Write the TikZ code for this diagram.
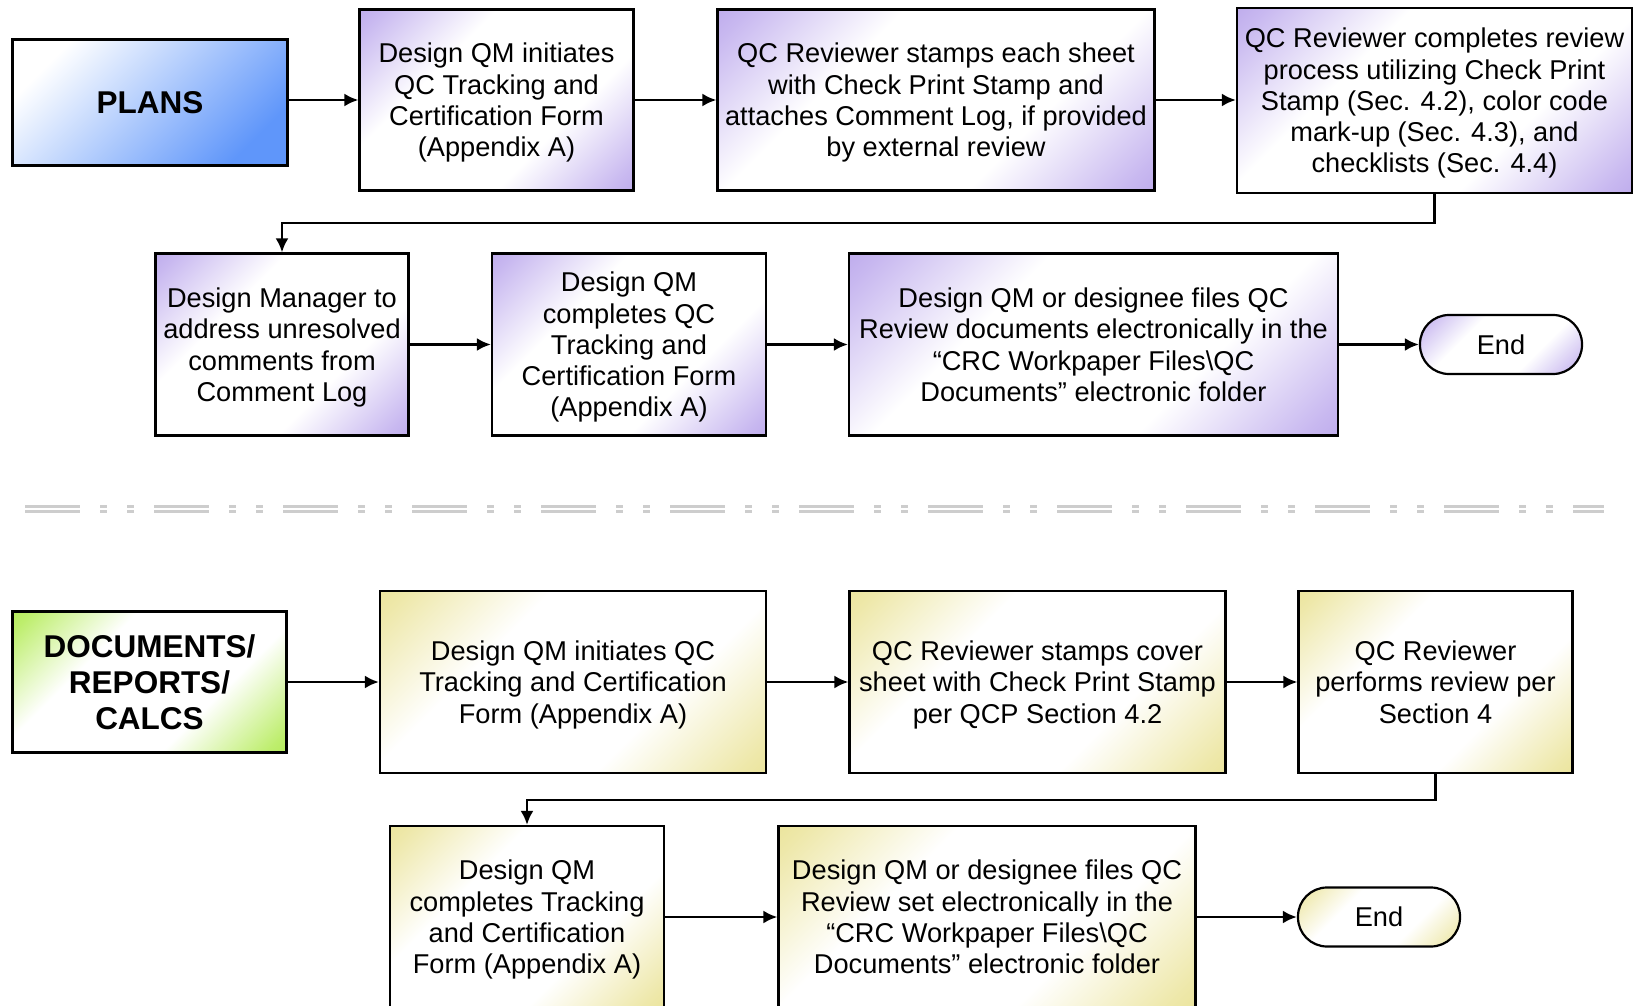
\documentclass[tikz,border=0pt]{standalone}
\usepackage{fontspec}
\setmainfont{Liberation Sans}
\usetikzlibrary{arrows.meta}

\definecolor{qcpurple}{RGB}{155,128,222}
\definecolor{qcpurplelt}{RGB}{200,184,240}
\definecolor{qcyellow}{RGB}{224,214,105}
\definecolor{qcyellowlt}{RGB}{238,232,170}
\definecolor{qcgreen}{RGB}{145,222,20}
\definecolor{qcgreenlt}{RGB}{190,238,110}
\definecolor{qcblue}{RGB}{95,150,250}
\definecolor{sepgray}{RGB}{205,205,205}

\newcommand{\diagshading}[3]{%
  \pgfdeclareverticalshading{#1}{100bp}{color(0bp)=(#2); color(18bp)=(#3);
    color(36bp)=(white); color(64bp)=(white); color(82bp)=(#3); color(100bp)=(#2)}}
\diagshading{purplediag}{qcpurple}{qcpurplelt}
\diagshading{yellowdiag}{qcyellow}{qcyellowlt}
\diagshading{greendiag}{qcgreen}{qcgreenlt}

\newcommand{\boxfont}{\fontsize{27.2}{31.3}\selectfont}
\newcommand{\headfont}{\fontsize{31.5}{36.3}\selectfont\bfseries}

\tikzset{
  box/.style={draw, line width=2.2pt, inner sep=0pt, text depth=0pt, align=center, font=\boxfont},
  pbox/.style={box, shade, shading=purplediag, shading angle=45},
  ybox/.style={box, shade, shading=yellowdiag, shading angle=45},
  endbox/.style={minimum width=162pt, minimum height=59pt, rounded corners=29pt},
  arr/.style={line width=2.6pt, -{Latex[length=14pt,width=13pt]}}
}

\begin{document}
\begin{tikzpicture}[x=1pt,y=-1pt]
\useasboundingbox (0,0) rectangle (1634,1006);
\clip (0,0) rectangle (1634,1006);

\node (plans) at (150,102.5) [box, font=\headfont, top color=white, bottom color=qcblue, shading angle=45,
  minimum width=275pt, minimum height=126pt] {PLANS};
\node (a1) at (496.5,100) [pbox, minimum width=274pt, minimum height=181pt]
  {Design QM initiates\\QC Tracking and\\Certification Form\\(Appendix A)};
\node (a2) at (936,100) [pbox, minimum width=437pt, minimum height=181pt]
  {QC Reviewer stamps each sheet\\with Check Print Stamp and\\attaches Comment Log, if provided\\by external review};
\node (a3) at (1434.5,100.5) [pbox, minimum width=395pt, minimum height=185pt]
  {QC Reviewer completes review\\process utilizing Check Print\\Stamp (Sec. 4.2), color code\\mark-up (Sec. 4.3), and\\checklists (Sec. 4.4)};

\node (b1) at (282,344.5) [pbox, minimum width=253pt, minimum height=182pt]
  {Design Manager to\\address unresolved\\comments from\\Comment Log};
\node (b2) at (629,344.5) [pbox, minimum width=274pt, minimum height=182pt]
  {Design QM\\completes QC\\Tracking and\\Certification Form\\(Appendix A)};
\node (b3) at (1093.5,344.5) [pbox, minimum width=489pt, minimum height=182pt]
  {Design QM or designee files QC\\Review documents electronically in the\\“CRC Workpaper Files\textbackslash QC\\Documents” electronic folder};
\node (end1) at (1501,344.5) [pbox, endbox] {End};

\coordinate (turn1) at (282,223);
\draw[arr] (plans.east |- a1.west) -- (a1.west);
\draw[arr] (a1) -- (a2);
\draw[arr] (a2.east) -- (a3.west |- a2.east);
\draw[arr] (a3.south) |- (turn1) -- (b1.north);
\draw[arr] (b1) -- (b2);
\draw[arr] (b2) -- (b3);
\draw[arr] (b3) -- (end1);

\draw[sepgray, line width=2.8pt, dash pattern=on 55pt off 20pt on 7pt off 20pt on 7pt off 20pt]
  (25,506.5) -- (1604,506.5);
\draw[sepgray, line width=2.8pt, dash pattern=on 55pt off 20pt on 7pt off 20pt on 7pt off 20pt]
  (25,511.5) -- (1604,511.5);

\node (docs) at (149.5,682) [box, font=\headfont, shade, shading=greendiag, shading angle=45,
  minimum width=274pt, minimum height=141pt] {DOCUMENTS/\\REPORTS/\\CALCS};
\node (c1) at (573,682) [ybox, minimum width=386pt, minimum height=182pt]
  {Design QM initiates QC\\Tracking and Certification\\Form (Appendix A)};
\node (c2) at (1037.5,682) [ybox, minimum width=376pt, minimum height=182pt]
  {QC Reviewer stamps cover\\sheet with Check Print Stamp\\per QCP Section 4.2};
\node (c3) at (1435.5,682) [ybox, minimum width=274pt, minimum height=182pt]
  {QC Reviewer\\performs review per\\Section 4};

\node (d1) at (527,917) [ybox, minimum width=274pt, minimum height=182pt]
  {Design QM\\completes Tracking\\and Certification\\Form (Appendix A)};
\node (d2) at (987,917) [ybox, minimum width=417pt, minimum height=182pt]
  {Design QM or designee files QC\\Review set electronically in the\\“CRC Workpaper Files\textbackslash QC\\Documents” electronic folder};
\node (end2) at (1379,917) [ybox, endbox] {End};

\coordinate (turn2) at (527,800);
\draw[arr] (docs) -- (c1);
\draw[arr] (c1) -- (c2);
\draw[arr] (c2) -- (c3);
\draw[arr] (c3.south) |- (turn2) -- (d1.north);
\draw[arr] (d1) -- (d2);
\draw[arr] (d2) -- (end2);
\end{tikzpicture}
\end{document}
